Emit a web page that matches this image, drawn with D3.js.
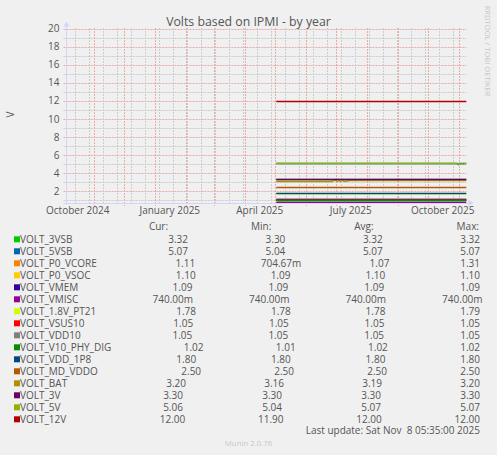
<!DOCTYPE html>
<html>
<head>
<meta charset="utf-8">
<title>Volts based on IPMI - by year</title>
<script src="https://d3js.org/d3.v7.min.js"></script>
<style>
  body { margin: 0; background: #f0f0f0; }
  svg text { font-family: 'Open Sans', sans-serif; fill: #555; }
</style>
</head>
<body>
<div id="chart"></div>
<script>
// ---- data ----
const fieldLabels = ["VOLT_3VSB", "VOLT_5VSB", "VOLT_P0_VCORE", "VOLT_P0_VSOC", "VOLT_VMEM", "VOLT_VMISC",
  "VOLT_1.8V_PT21", "VOLT_VSUS10", "VOLT_VDD10", "VOLT_V10_PHY_DIG", "VOLT_VDD_1P8", "VOLT_MD_VDDO",
  "VOLT_BAT", "VOLT_3V", "VOLT_5V", "VOLT_12V"];
const fieldColors = ["#00CC00", "#0066B3", "#FF8000", "#FFCC00", "#330099", "#990099", "#CCFF00", "#FF0000",
  "#808080", "#008F00", "#00487D", "#B35A00", "#B38F00", "#6B006B", "#8FB300", "#B30000"];
const curValues = [3.32, 5.07, 1.11, 1.10, 1.09, 0.74, 1.78, 1.05, 1.05, 1.02, 1.80, 2.50, 3.20, 3.30, 5.06, 12.00];
const minValues = [3.30, 5.04, 0.70467, 1.09, 1.09, 0.74, 1.78, 1.05, 1.05, 1.01, 1.80, 2.50, 3.16, 3.30, 5.04, 11.90];
const avgValues = [3.32, 5.07, 1.07, 1.10, 1.09, 0.74, 1.78, 1.05, 1.05, 1.02, 1.80, 2.50, 3.19, 3.30, 5.07, 12.00];
const maxValues = [3.32, 5.07, 1.31, 1.10, 1.09, 0.74, 1.79, 1.05, 1.05, 1.02, 1.80, 2.50, 3.20, 3.30, 5.07, 12.00];

// history per field, [day, volts]
const h3VSB = [["2025-05-02", 3.32], ["2025-11-08", 3.32]];
const h5VSB = [["2025-05-02", 5.07], ["2025-10-30", 5.07], ["2025-10-31", 5.04], ["2025-11-01", 5.07], ["2025-11-08", 5.07]];
const hP0VCORE = [["2025-05-02", 1.11], ["2025-11-08", 1.11]];
const hP0VSOC = [["2025-05-02", 1.10], ["2025-11-08", 1.10]];
const hVMEM = [["2025-05-02", 1.09], ["2025-11-08", 1.09]];
const hVMISC = [["2025-05-02", 0.74], ["2025-11-08", 0.74]];
const h18VPT21 = [["2025-05-02", 1.78], ["2025-11-08", 1.78]];
const hVSUS10 = [["2025-05-02", 1.05], ["2025-11-08", 1.05]];
const hVDD10 = [["2025-05-02", 1.05], ["2025-11-08", 1.05]];
const hV10PHY = [["2025-05-02", 1.02], ["2025-11-08", 1.02]];
const hVDD1P8 = [["2025-05-02", 1.80], ["2025-11-08", 1.80]];
const hMDVDDO = [["2025-05-02", 2.50], ["2025-11-08", 2.50]];
const hBAT = [["2025-05-02", 3.16], ["2025-06-27", 3.16], ["2025-06-28", 3.20], ["2025-07-01", 3.20], ["2025-07-02", 3.16],
  ["2025-07-04", 3.20], ["2025-07-05", 3.16], ["2025-07-08", 3.20], ["2025-07-09", 3.16], ["2025-07-15", 3.20],
  ["2025-11-08", 3.20]];
const h3V = [["2025-05-02", 3.30], ["2025-11-08", 3.30]];
const h5V = [["2025-05-02", 5.07], ["2025-10-29", 5.07], ["2025-10-30", 5.04], ["2025-11-01", 5.07], ["2025-11-02", 5.04],
  ["2025-11-04", 5.06], ["2025-11-05", 5.04], ["2025-11-07", 5.06], ["2025-11-08", 5.06]];
const h12V = [["2025-05-02", 12.00], ["2025-11-08", 12.00]];
const fieldHistory = [h3VSB, h5VSB, hP0VCORE, hP0VSOC, hVMEM, hVMISC, h18VPT21, hVSUS10, hVDD10, hV10PHY,
  hVDD1P8, hMDVDDO, hBAT, h3V, h5V, h12V];

const yTicks = [2, 4, 6, 8, 10, 12, 14, 16, 18, 20];
const yMinorTicks = [1, 3, 5, 7, 9, 11, 13, 15, 17, 19];
const xTickDays = ["2024-10-15", "2025-01-15", "2025-04-15", "2025-07-15", "2025-10-15"];
const lastUpdate = "Last update: Sat Nov  8 05:35:00 2025";

// ---- layout ----
const W = 497, H = 455
const pLeft = 66.5, pRight = 466.5, pTop = 28.5, pBottom = 202.8
const axisCol = "#CFD6F8"
const minorCol = "#CCCCCC", majorCol = "#EBAAAA"

const parseDay = d3.utcParse("%Y-%m-%d")
const tEnd = new Date(Date.UTC(2025, 10, 8, 5, 35))
const tStart = d3.utcDay.offset(tEnd, -400)

const x = d3.scaleUtc().domain([tStart, tEnd]).range([pLeft, pRight])
const y = d3.scaleLinear().domain([0.7, 20]).range([pBottom, pTop])

const svg = d3.select("#chart").append("svg").attr("width", W).attr("height", H)
svg.append("rect").attr("width", W).attr("height", H).attr("fill", "#F0F0F0")

svg.append("text").attr("x", 248.5).attr("y", 26).attr("text-anchor", "middle")
  .style("font-size", "12.3px").text("Volts based on IPMI - by year")

svg.append("text").attr("transform", "translate(484.5,51) rotate(90)").attr("text-anchor", "middle")
  .style("font-size", "7.6px").style("fill", "#C8C8C8").text("RRDTOOL / TOBI OETIKER")

svg.append("text").attr("transform", "translate(14,114.5) rotate(-90)").attr("text-anchor", "middle")
  .style("font-size", "10px").text("V")

const crisp = v => Math.round(v) + 0.5

// horizontal grid: drawn the same way as the series, one path per level
const gridEdge = [d3.utcDay.offset(tStart, -3), tEnd]
const gridLine = d3.line().x(d => x(d[0])).y(d => crisp(y(d[1])))
yMinorTicks.concat(yTicks).forEach((v, i) => {
  svg.append("path").datum(gridEdge.map(t => [t, v])).attr("d", gridLine)
    .attr("fill", "none").attr("stroke", i < yMinorTicks.length ? minorCol : majorCol)
    .attr("stroke-width", 1).attr("stroke-dasharray", "2,1")
})

// vertical grid: every other sunday (grey), month starts (pink)
const gy0 = Math.floor(pTop), gy1 = Math.ceil(pBottom) + 2
const minorDays = d3.utcSunday.range(tStart, tEnd).filter((d, i) => i % 2 === 1)
const vgrid = svg.append("g")
vgrid.append("g").selectAll("path").data(minorDays).join("path")
  .attr("d", d => `M${crisp(x(d))},${gy0}V${gy1}`).attr("stroke", minorCol).attr("stroke-dasharray", "2,1")
vgrid.append("g").selectAll("path").data(d3.utcMonth.range(tStart, tEnd)).join("path")
  .attr("d", d => `M${crisp(x(d))},${gy0}V${gy1 + 1}`).attr("stroke", majorCol).attr("stroke-dasharray", "2,1")

// series
const line = d3.line().x(d => x(parseDay(d[0]))).y(d => crisp(y(d[1])))
fieldHistory.forEach((pts, i) => {
  svg.append("path").datum(pts).attr("d", line).attr("fill", "none")
    .attr("stroke", fieldColors[i]).attr("stroke-width", 1.3)
})

// axes
const yAxis = d3.axisLeft(y).tickValues(yTicks).tickSize(0).tickPadding(7)
svg.append("g").attr("transform", `translate(${pLeft},0)`).call(yAxis)
  .call(g => g.select(".domain").remove())
  .selectAll("text").style("font-size", "10px").style("fill", "#555").style("font-family", "'Open Sans', sans-serif")
const xAxis = d3.axisBottom(x).tickValues(xTickDays.map(parseDay)).tickFormat(d3.utcFormat("%B %Y")).tickSize(0).tickPadding(4)
svg.append("g").attr("transform", `translate(0,${pBottom})`).call(xAxis)
  .call(g => g.select(".domain").remove())
  .selectAll("text").style("font-size", "10px").style("fill", "#555").style("font-family", "'Open Sans', sans-serif")

svg.append("line").attr("x1", pLeft).attr("x2", pLeft).attr("y1", pBottom + 2).attr("y2", pTop - 3)
  .attr("stroke", axisCol)
svg.append("line").attr("x1", pLeft - 3).attr("x2", pRight + 3).attr("y1", crisp(pBottom)).attr("y2", crisp(pBottom))
  .attr("stroke", axisCol)
svg.append("path").attr("d", `M${pLeft - 3},${pTop - 2}L${pLeft},${pTop - 7}L${pLeft + 3},${pTop - 2}Z`).attr("fill", axisCol)
svg.append("path").attr("d", `M${pRight + 2},${pBottom - 3}L${pRight + 7},${pBottom}L${pRight + 2},${pBottom + 3}Z`).attr("fill", axisCol)

// legend, justified like rrdtool's \j
function fmt(v) {
  let s, u
  if (Math.abs(v) < 1) { s = (v * 1000).toFixed(2); u = "m" } else { s = v.toFixed(2); u = " " }
  return s.padStart(6, " ") + u
}
const legend = svg.append("g").style("font-size", "10px")
function justify(items, x0, x1, yb) {
  const nodes = items.map(t => legend.append("text").attr("xml:space", "preserve").attr("y", yb).text(t))
  const widths = nodes.map(n => n.node().getComputedTextLength())
  const gap = (x1 - x0 - d3.sum(widths)) / (items.length - 1)
  let cx = x0
  nodes.forEach((n, i) => { n.attr("x", cx); cx += widths[i] + gap })
}
const maxLen = d3.max(fieldLabels, d => d.length)
justify([" ".repeat(maxLen + 4), "Cur:", "Min:", "Avg:", "Max:"], 14, 479, 230.3)
fieldLabels.forEach((lab, i) => {
  const yc = 239.3 + i * 12
  legend.append("rect").attr("x", 14).attr("y", yc - 3).attr("width", 6).attr("height", 6).attr("fill", fieldColors[i])
  justify([lab + " ".repeat(maxLen + 1 - lab.length), fmt(curValues[i]), fmt(minValues[i]), fmt(avgValues[i]), fmt(maxValues[i])],
    20, 482.6, yc + 3.6)
})
legend.append("text").attr("xml:space", "preserve").attr("x", 480).attr("y", 434.3).attr("text-anchor", "end").text(lastUpdate)
svg.append("text").attr("x", 248.5).attr("y", 445.5).attr("text-anchor", "middle")
  .style("font-size", "7.8px").style("fill", "#C8C8C8").text("Munin 2.0.76")
</script>
</body>
</html>
